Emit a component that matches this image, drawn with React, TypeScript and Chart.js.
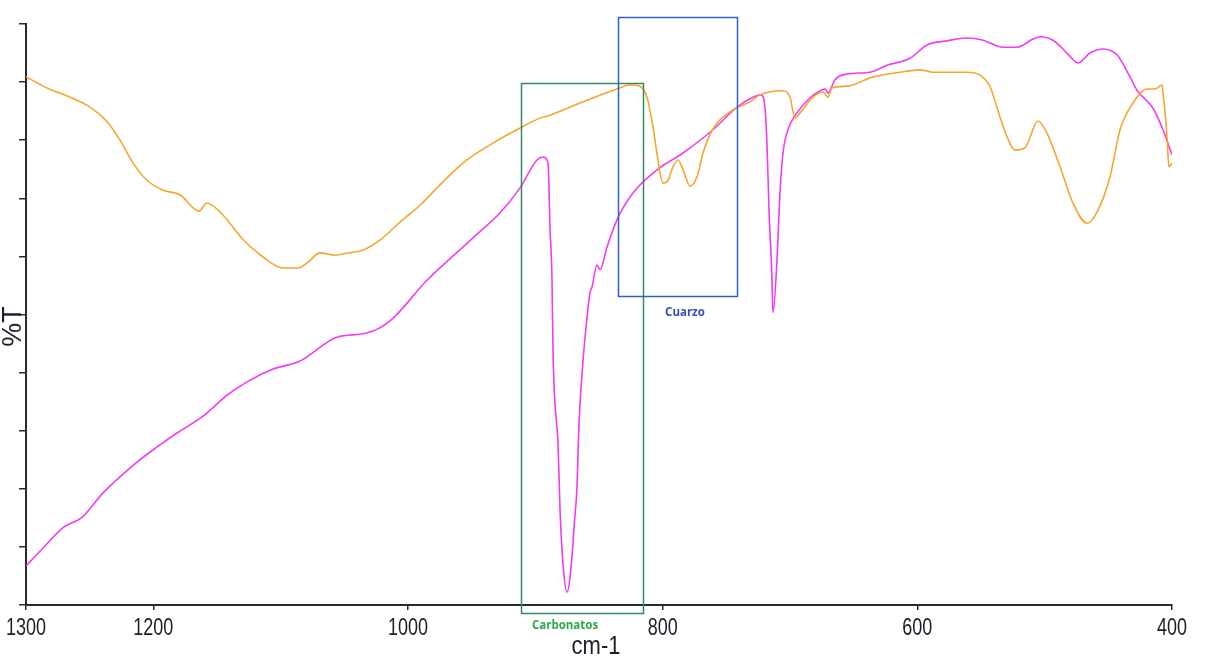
import React, { useEffect, useRef } from 'react';
import { Chart, registerables } from 'chart.js';

Chart.register(...registerables);

// x-axis tick labels (cm-1)
const xTickValues = [1300, 1200, 1000, 800, 600, 400];

// Sample 1 (orange) – wavenumber (cm-1) and %T
const sample1Wn = [
  1300, 1283.5, 1265.4, 1249.7, 1235.6, 1226.2, 1216.0, 1205.0, 1192.4, 1179.1,
  1164.1, 1157.9, 1146.1, 1129.6, 1113.9, 1098.2, 1086.4, 1078.5, 1069.1, 1057.3,
  1047.1, 1035.3, 1022.0, 1006.3, 990.6, 974.9, 964.7, 953.7, 933.3, 912.0,
  896.3, 888.5, 862.6, 835.9, 825.7, 817.9, 812.3, 807.6, 803.7, 799.7,
  795.8, 791.9, 788.0, 784.0, 778.5, 773.0, 768.3, 760.9, 744.8, 731.4,
  723.6, 705.5, 700.0, 696.1, 692.1, 681.9, 674.1, 670.2, 667.0, 655.2,
  634.8, 613.6, 597.9, 587.7, 582.2, 561.0, 550.8, 542.9, 535.1, 529.6,
  523.3, 515.4, 505.2, 498.2, 487.9, 477.8, 466.7, 458.9, 448.7, 440.8,
  430.6, 419.6, 413.4, 407.9, 407.1, 403.9, 402.4, 400,
];
const sample1T = [
  90.9, 89.0, 87.4, 85.7, 83.0, 80.0, 76.1, 73.1, 71.4, 70.6,
  67.8, 69.2, 67.3, 62.9, 59.9, 58.0, 58.0, 59.0, 60.6, 60.2,
  60.6, 61.1, 62.8, 65.9, 68.8, 72.3, 74.5, 76.6, 79.5, 82.1,
  83.8, 84.3, 86.6, 88.8, 89.5, 89.3, 87.4, 82.3, 76.6, 72.6,
  73.1, 75.4, 76.6, 74.9, 72.1, 73.7, 77.8, 81.8, 85.2, 86.6,
  87.8, 88.5, 87.4, 83.8, 84.7, 87.4, 88.3, 87.4, 89.0, 89.3,
  90.9, 91.7, 92.1, 91.7, 91.7, 91.7, 91.2, 89.2, 84.0, 80.6,
  78.3, 78.7, 83.3, 81.2, 75.4, 69.2, 65.7, 67.6, 73.7, 81.8,
  86.4, 88.8, 88.8, 89.5, 88.3, 80.6, 75.4, 76.1,
];

// Sample 2 (magenta) – wavenumber (cm-1) and %T
const sample2Wn = [
  1300, 1286.6, 1270.9, 1256.0, 1239.5, 1212.8, 1197.1, 1181.4, 1161.0, 1142.1,
  1126.4, 1106.0, 1084.8, 1055.8, 1032.2, 1014.1, 985.1, 948.9, 927.7, 912.0,
  898.7, 893.9, 890.0, 888.5, 886.9, 886.1, 884.6, 882.2, 880.6, 878.3,
  875.1, 871.2, 869.6, 867.3, 865.7, 863.3, 860.2, 857.1, 855.5, 851.6,
  849.2, 843.7, 835.9, 823.3, 804.4, 784.0, 760.5, 741.6, 729.1, 722.8,
  720.4, 718.1, 716.5, 714.2, 713.4, 710.2, 707.9, 705.5, 701.6, 694.5,
  684.3, 678.0, 672.5, 670.2, 664.7, 655.2, 637.2, 623.8, 605.8, 592.4,
  576.7, 561.0, 548.4, 532.7, 521.7, 509.2, 503.7, 493.4, 482.5, 473.8,
  464.4, 454.2, 443.2, 433.0, 427.5, 414.9, 407.1, 400,
];
const sample2T = [
  6.7, 9.8, 13.3, 15.1, 19.3, 24.6, 27.2, 29.6, 32.5, 36.1,
  38.4, 40.6, 42.0, 46.1, 46.8, 48.9, 55.9, 63.2, 67.5, 71.8,
  76.6, 77.1, 76.1, 65.1, 55.9, 43.4, 34.8, 27.9, 16.4, 7.2,
  2.2, 8.3, 13.4, 20.3, 31.3, 39.9, 47.8, 53.7, 54.7, 58.5,
  57.7, 61.6, 66.3, 70.9, 74.9, 77.8, 81.8, 85.7, 87.4, 87.8,
  86.9, 79.5, 68.0, 56.5, 50.3, 59.4, 70.9, 77.8, 81.8, 84.7,
  87.3, 88.3, 88.8, 88.1, 90.4, 91.4, 91.7, 92.9, 94.1, 96.4,
  97.1, 97.6, 97.2, 96.0, 96.0, 97.4, 97.8, 97.2, 95.0, 93.3,
  95.0, 95.7, 94.7, 90.9, 88.6, 85.5, 81.8, 77.5,
];

// Highlighted regions (cm-1 range and %T range) with their labels
const regionNames = ['Carbonatos', 'Cuarzo'];
const regionFrom = [911.3, 835.1];
const regionTo = [815.5, 741.7];
const regionLow = [-1.4, 53.2];
const regionHigh = [89.8, 101.2];
const regionLabelWn = [876.7, 782.5];
const regionLabelT = [-3.6, 50.3];

const regionStroke = ['#318a64', '#2f5fcf'];
const regionText = ['#2aa84c', '#3a4cc0'];

const overlayPlugin = {
  id: 'overlay',
  afterDraw(chart: any) {
    const { ctx, scales } = chart;
    const x = scales.x;
    const y = scales.y;
    const area = chart.chartArea;
    ctx.save();

    // regions
    regionNames.forEach((name, i) => {
      const x1 = x.getPixelForValue(regionFrom[i]);
      const x2 = x.getPixelForValue(regionTo[i]);
      const y1 = y.getPixelForValue(regionHigh[i]);
      const y2 = y.getPixelForValue(regionLow[i]);
      ctx.strokeStyle = regionStroke[i];
      ctx.lineWidth = 1.5;
      ctx.strokeRect(Math.round(x1) + 0.5, Math.round(y1) + 0.5, Math.round(x2 - x1), Math.round(y2 - y1));
      ctx.fillStyle = regionText[i];
      ctx.font = 'bold 11.5px "Open Sans", "Liberation Sans", sans-serif';
      ctx.textAlign = 'center';
      ctx.textBaseline = 'middle';
      ctx.fillText(name, x.getPixelForValue(regionLabelWn[i]), y.getPixelForValue(regionLabelT[i]));
    });

    // x tick labels (condensed)
    ctx.fillStyle = '#1e1e2a';
    ctx.font = '24px "Liberation Sans", Arial, sans-serif';
    ctx.textAlign = 'center';
    ctx.textBaseline = 'middle';
    xTickValues.forEach((v) => {
      ctx.save();
      ctx.translate(x.getPixelForValue(v), area.bottom + 23);
      ctx.scale(0.75, 1);
      ctx.fillText(String(v), 0, 0);
      ctx.restore();
    });

    // x axis title
    ctx.save();
    ctx.translate((area.left + area.right) / 2 - 3, area.bottom + 42);
    ctx.scale(0.88, 1);
    ctx.font = '25px "Liberation Sans", Arial, sans-serif';
    ctx.fillText('cm-1', 0, 0);
    ctx.restore();

    // y axis title
    ctx.save();
    ctx.translate(21, (area.top + area.bottom) / 2 + 12);
    ctx.rotate(-Math.PI / 2);
    ctx.font = '27px "Liberation Sans", Arial, sans-serif';
    ctx.textBaseline = 'alphabetic';
    ctx.fillText('%T', 0, 0);
    ctx.restore();

    ctx.restore();
  },
};

export default function App() {
  const canvasRef = useRef<HTMLCanvasElement | null>(null);

  useEffect(() => {
    if (!canvasRef.current) return;
    const chart = new Chart(canvasRef.current, {
      type: 'line',
      data: {
        datasets: [
          {
            label: 'Muestra 1',
            data: sample1Wn.map((w, i) => ({ x: w, y: sample1T[i] })),
            borderColor: '#f5a62c',
            borderWidth: 1.6,
            pointRadius: 0,
            cubicInterpolationMode: 'monotone',
          },
          {
            label: 'Muestra 2',
            data: sample2Wn.map((w, i) => ({ x: w, y: sample2T[i] })),
            borderColor: '#f23cf2',
            borderWidth: 1.6,
            pointRadius: 0,
            cubicInterpolationMode: 'monotone',
          },
        ],
      },
      options: {
        responsive: false,
        animation: false,
        layout: { padding: { top: 24, right: 34, left: 0, bottom: 0 } },
        plugins: { legend: { display: false }, tooltip: { enabled: false } },
        scales: {
          x: {
            type: 'linear',
            min: 400,
            max: 1300,
            reverse: true,
            afterBuildTicks: (scale: any) => {
              scale.ticks = xTickValues.map((v) => ({ value: v }));
            },
            afterFit: (scale: any) => {
              scale.height = 53;
            },
            ticks: { display: false },
            grid: { drawOnChartArea: false, drawTicks: true, tickLength: 5, color: '#2a2a2a', lineWidth: 1.5 },
            border: { color: '#2a2a2a', width: 2 },
          },
          y: {
            type: 'linear',
            min: 0,
            max: 100,
            ticks: { display: false, stepSize: 10 },
            afterFit: (scale: any) => {
              scale.width = 26;
            },
            grid: { drawOnChartArea: false, drawTicks: true, tickLength: 7, color: '#2a2a2a', lineWidth: 1.5 },
            border: { color: '#2a2a2a', width: 2 },
          },
        },
      },
      plugins: [overlayPlugin],
    } as any);
    return () => chart.destroy();
  }, []);

  return (
    <div style={{ position: 'absolute', left: 0, top: 0, width: 1206, height: 658, background: '#fff' }}>
      <canvas ref={canvasRef} width={1206} height={658} />
    </div>
  );
}
